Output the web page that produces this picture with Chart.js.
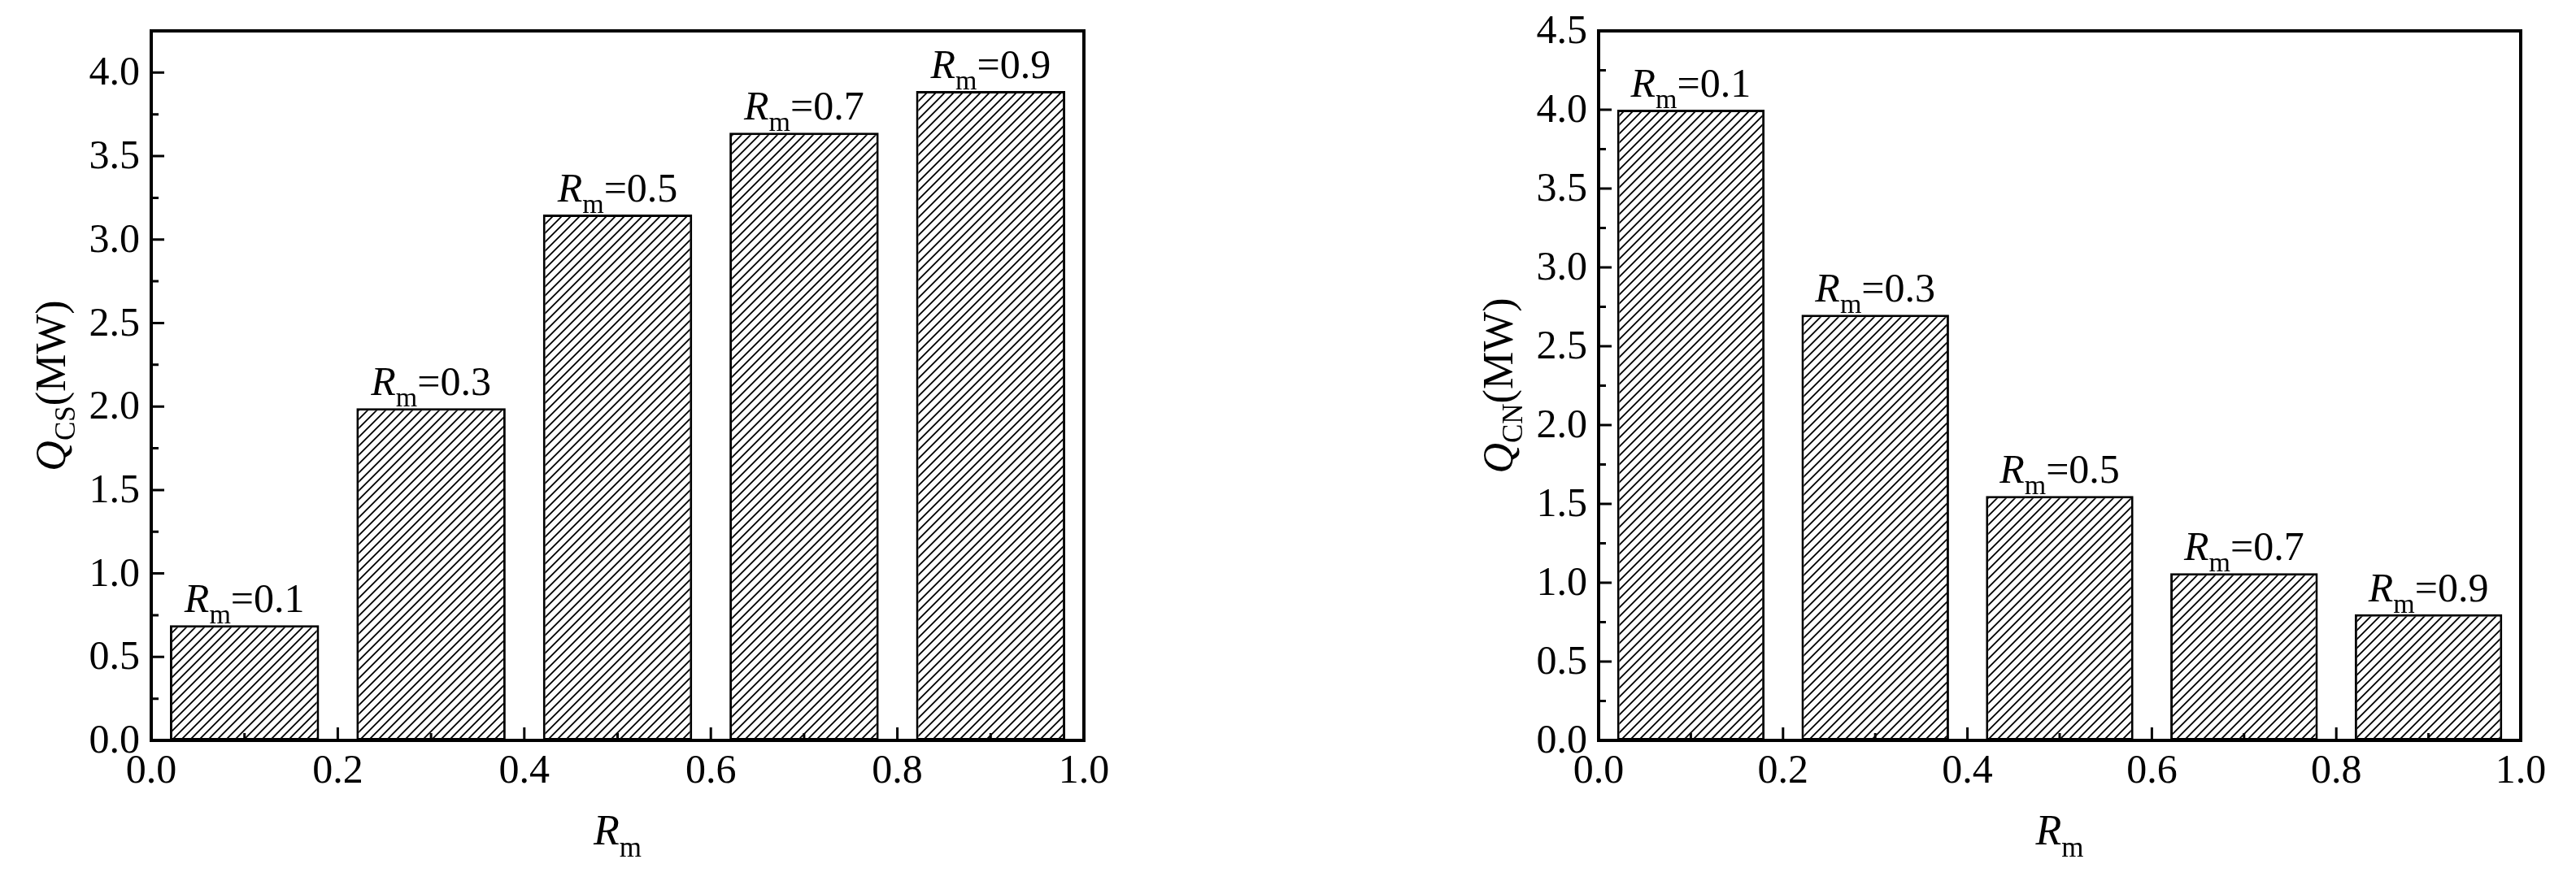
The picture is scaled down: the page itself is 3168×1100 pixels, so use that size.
<!DOCTYPE html>
<html>
<head>
<meta charset="utf-8">
<script src="https://cdn.jsdelivr.net/npm/chart.js@4/dist/chart.umd.min.js"></script>
<style>
  body { margin: 0; background: #fff; width: 3168px; height: 1100px; overflow: hidden; }
  .box { position: absolute; top: 0; width: 1584px; height: 1100px; }
</style>
</head>
<body>
<div class="box" style="left:0"><canvas id="c1"></canvas></div>
<div class="box" style="left:1584px"><canvas id="c2"></canvas></div>
<script>
// data
const rmValues = [0.1, 0.3, 0.5, 0.7, 0.9];
const qcsValues = [0.69, 1.99, 3.15, 3.64, 3.89];
const qcnValues = [4.00, 2.70, 1.55, 1.06, 0.80];
const xTicks = [0.0, 0.2, 0.4, 0.6, 0.8, 1.0];

const FONT = '"Liberation Serif", "Times New Roman", serif';

function hatchPattern() {
  const s = 11;
  const c = document.createElement('canvas');
  c.width = s; c.height = s;
  const g = c.getContext('2d');
  g.fillStyle = '#fff';
  g.fillRect(0, 0, s, s);
  g.strokeStyle = '#000';
  g.lineWidth = 1.8;
  g.beginPath();
  g.moveTo(-1, s + 1); g.lineTo(s + 1, -1);
  g.moveTo(-2, 2); g.lineTo(2, -2);
  g.moveTo(s - 2, s + 2); g.lineTo(s + 2, s - 2);
  g.stroke();
  return g.createPattern(c, 'repeat');
}

// draws "R" italic + subscript "m" + rest, centered at x
function drawRm(g, x, y, rest, size) {
  g.save();
  g.textBaseline = 'alphabetic';
  g.textAlign = 'left';
  const fR = 'italic ' + size + 'px ' + FONT;
  const fm = Math.round(size * 0.68) + 'px ' + FONT;
  const fr = size + 'px ' + FONT;
  g.font = fR; const wR = g.measureText('R').width;
  g.font = fm; const wm = g.measureText('m').width;
  g.font = fr; const wr = g.measureText(rest).width;
  let cx = x - (wR + wm + wr) / 2;
  g.font = fR; g.fillText('R', cx, y); cx += wR;
  g.font = fm; g.fillText('m', cx, y + size * 0.28); cx += wm;
  g.font = fr; g.fillText(rest, cx, y);
  g.restore();
}

function decorPlugin(ySub, yMax) {
  return {
    id: 'decor',
    afterDraw(chart) {
      const g = chart.ctx;
      const a = chart.chartArea;
      const xs = chart.scales.x, ys = chart.scales.y;
      g.save();
      g.strokeStyle = '#000';
      g.fillStyle = '#000';
      // frame
      g.lineWidth = 4;
      g.strokeRect(a.left, a.top, a.right - a.left, a.bottom - a.top);
      // inward ticks
      g.lineWidth = 3;
      g.beginPath();
      for (let v = 0; v <= 10; v++) {
        const px = xs.getPixelForValue(v / 10);
        const len = v % 2 === 0 ? 16 : 9;
        g.moveTo(px, a.bottom); g.lineTo(px, a.bottom - len);
      }
      for (let v = 0; v <= yMax * 4 + 0.001; v++) {
        const py = ys.getPixelForValue(v / 4);
        const len = v % 2 === 0 ? 16 : 9;
        g.moveTo(a.left, py); g.lineTo(a.left + len, py);
      }
      g.stroke();
      // tick labels
      g.font = '50px ' + FONT;
      g.textAlign = 'center'; g.textBaseline = 'top';
      xTicks.forEach(v => g.fillText(v.toFixed(1), xs.getPixelForValue(v), a.bottom + 14));
      g.textAlign = 'right'; g.textBaseline = 'middle';
      for (let v = 0; v <= yMax + 0.001; v += 0.5) {
        g.fillText(v.toFixed(1), a.left - 14, ys.getPixelForValue(v) + 2);
      }
      // bar labels
      const meta = chart.getDatasetMeta(0);
      meta.data.forEach((bar, i) => {
        drawRm(g, bar.x, bar.y - 16, '=' + rmValues[i].toFixed(1), 50);
      });
      // x title
      drawRm(g, (a.left + a.right) / 2, a.bottom + 128, '', 52);
      // y title
      g.translate(a.left - 124, (a.top + a.bottom) / 2);
      g.rotate(-Math.PI / 2);
      g.textBaseline = 'alphabetic';
      g.textAlign = 'left';
      const fQ = 'italic 52px ' + FONT, fs = '35px ' + FONT, fu = '52px ' + FONT;
      g.font = fQ; const wQ = g.measureText('Q').width;
      g.font = fs; const ws = g.measureText(ySub).width;
      g.font = fu; const wu = g.measureText('(MW)').width;
      let cx = -(wQ + ws + wu) / 2;
      g.font = fQ; g.fillText('Q', cx, 18); cx += wQ;
      g.font = fs; g.fillText(ySub, cx, 30); cx += ws;
      g.font = fu; g.fillText('(MW)', cx, 18);
      g.restore();
    }
  };
}

function makeChart(id, values, ySub, yMax, pad) {
  const pts = rmValues.map((x, i) => ({ x: x, y: values[i] }));
  return new Chart(document.getElementById(id), {
    type: 'bar',
    data: {
      datasets: [{
        data: pts,
        backgroundColor: hatchPattern(),
        borderColor: '#000',
        borderWidth: 3,
        borderSkipped: false,
        barPercentage: 1.6,
        categoryPercentage: 1.0
      }]
    },
    options: {
      responsive: true,
      maintainAspectRatio: false,
      animation: false,
      layout: { padding: pad },
      plugins: { legend: { display: false }, tooltip: { enabled: false } },
      scales: {
        x: {
          type: 'linear', min: 0, max: 1, offset: false,
          grid: { display: false, drawTicks: false },
          border: { display: false },
          ticks: { display: false }
        },
        y: {
          min: 0, max: yMax,
          grid: { display: false, drawTicks: false },
          border: { display: false },
          ticks: { display: false }
        }
      }
    },
    plugins: [decorPlugin(ySub, yMax)]
  });
}

makeChart('c1', qcsValues, 'CS', 4.25, { left: 186, right: 251, top: 38, bottom: 189 });
makeChart('c2', qcnValues, 'CN', 4.5, { left: 382, right: 68, top: 38, bottom: 189 });
</script>
</body>
</html>
